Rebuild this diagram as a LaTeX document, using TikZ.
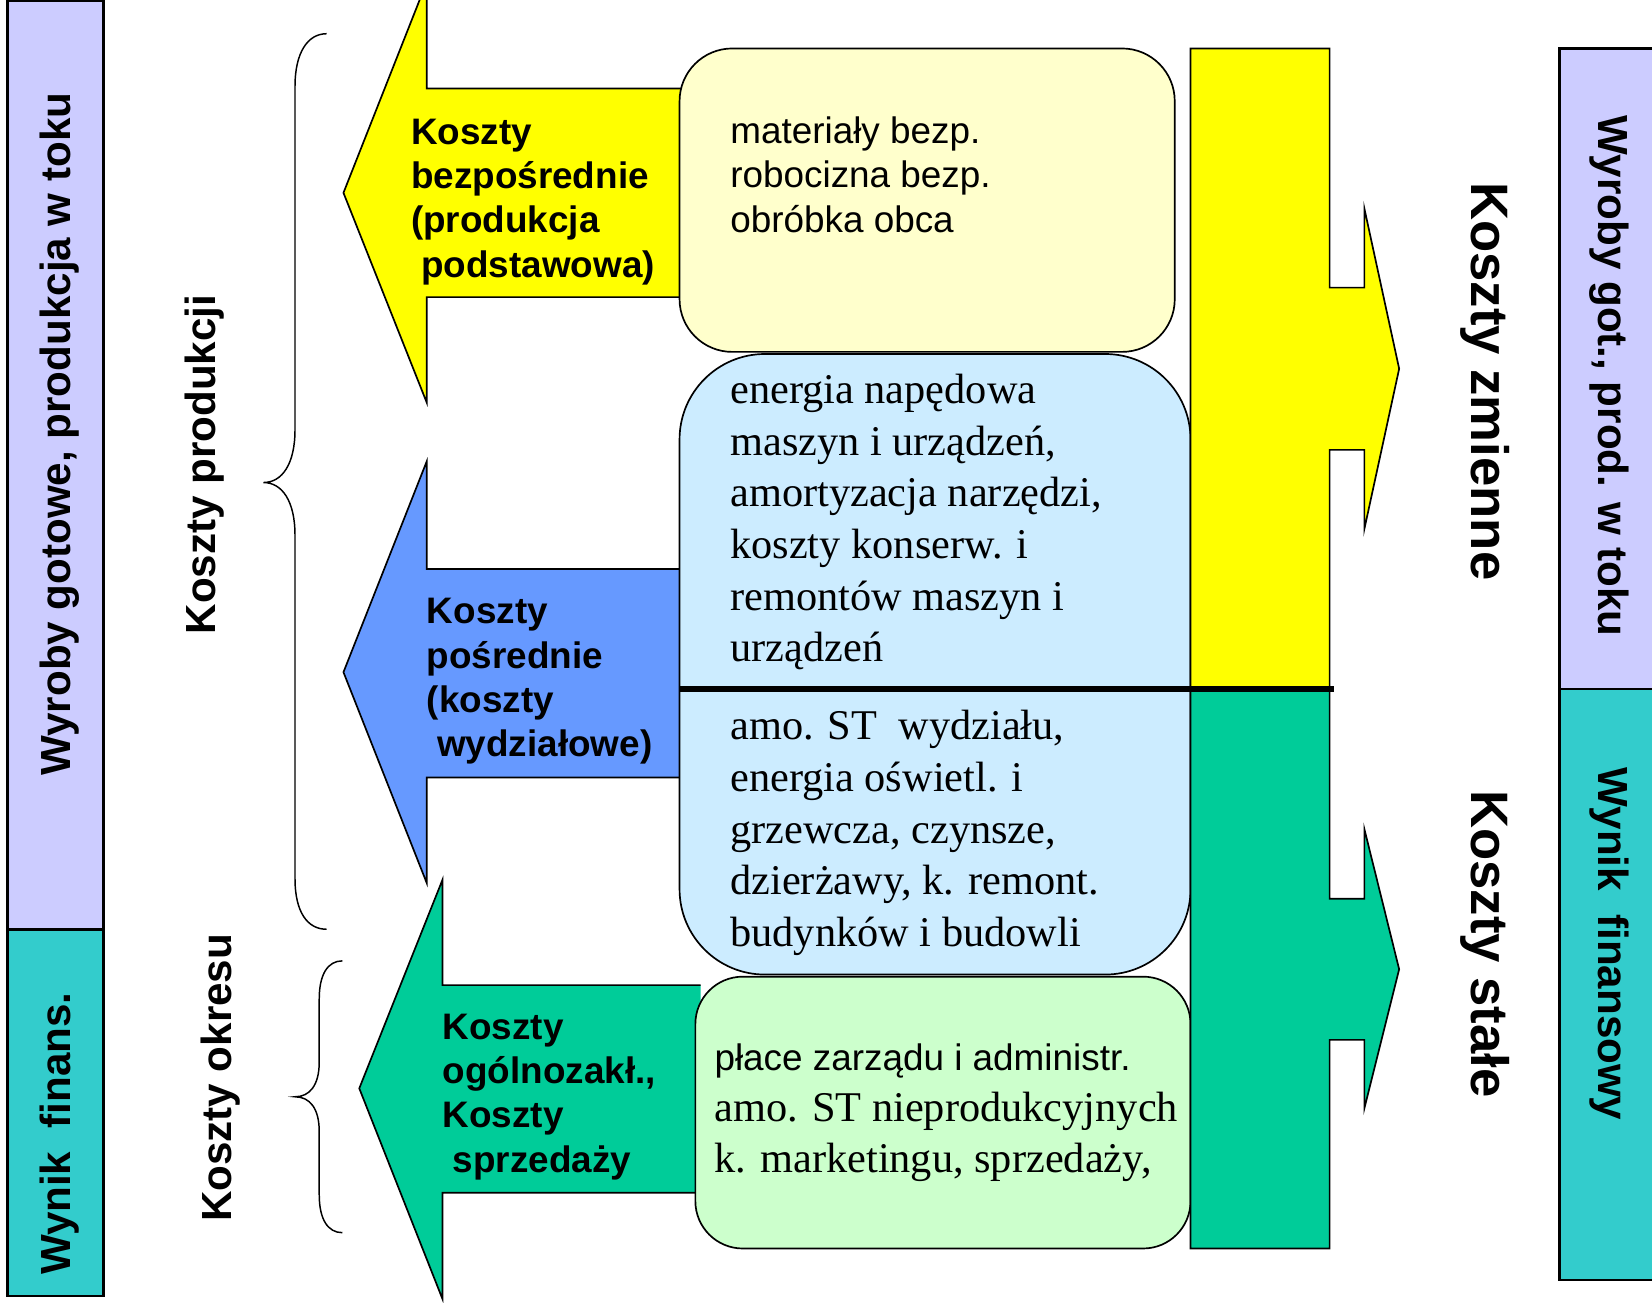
\documentclass[tikz,border=0pt]{standalone}
\usepackage{fontspec}
\setmainfont{Liberation Serif}
\setsansfont{Liberation Sans}
\definecolor{lav}{HTML}{CCCCFF}
\definecolor{tealx}{HTML}{33CCCC}
\definecolor{yel}{HTML}{FFFF00}
\definecolor{blu}{HTML}{6699FF}
\definecolor{grn}{HTML}{00CC99}
\definecolor{lyel}{HTML}{FFFFCC}
\definecolor{lblu}{HTML}{CCECFF}
\definecolor{lgrn}{HTML}{CCFFCC}
\begin{document}
\begin{tikzpicture}[x=1pt,y=-1pt,line join=miter,
  shp/.style={draw=black,line width=1.6pt},
  barshp/.style={draw=black,line width=2.4pt},
  brc/.style={draw=black,line width=1.4pt},
  lbl/.style={inner sep=0pt,anchor=north west,align=left,font=\sffamily\bfseries\fontsize{35}{42}\selectfont},
  sanstxt/.style={inner sep=0pt,anchor=north west,align=left,font=\sffamily\fontsize{35}{42}\selectfont},
  seriftxt/.style={inner sep=0pt,anchor=north west,align=left,font=\rmfamily\fontsize{40.2}{49}\selectfont},
  vtxt/.style={inner sep=0pt,anchor=base,font=\sffamily\bfseries\fontsize{40}{48}\selectfont},
  bigtxt/.style={inner sep=0pt,anchor=base,rotate=-90,font=\sffamily\bfseries\fontsize{50}{60}\selectfont}]
\useasboundingbox (0,0) rectangle (1568,1236);
\clip (0,0) rectangle (1568,1236);
\fill[white] (0,0) rectangle (1568,1236);

% left bar
\path[barshp,fill=lav] (7,1) rectangle (98,882);
\path[barshp,fill=tealx] (7,882) rectangle (98,1230);
\node[vtxt,rotate=90] (wyrL) at (67,412) {Wyroby gotowe, produkcja w toku};
\node[vtxt,rotate=90] (wynL) at (67,1076) {Wynik\ \ finans.};

% braces
\path[brc] (310,32) .. controls (292,32) and (280,50) .. (280,82) -- (280,408)
  .. controls (280,440) and (268,458) .. (250,458)
  .. controls (268,458) and (280,476) .. (280,508) -- (280,834)
  .. controls (280,866) and (292,882) .. (310,882);
\node[vtxt,rotate=90] (kprod) at (205,441) {Koszty produkcji};
\path[brc] (325,912) .. controls (311,912) and (303,925) .. (303,948) -- (303,1008)
  .. controls (303,1030) and (294,1041) .. (280,1041)
  .. controls (294,1041) and (303,1052) .. (303,1074) -- (303,1134)
  .. controls (303,1157) and (311,1170) .. (325,1170);
\node[vtxt,rotate=90] (kokr) at (220,1023) {Koszty okresu};

% left arrows
\path[shp,fill=yel] (650,84) -- (405,84) -- (405,-17) -- (326,183) -- (405,382) -- (405,282) -- (650,282);
\path[shp,fill=blu] (650,540) -- (405,540) -- (405,438) -- (326,638) -- (405,838) -- (405,738) -- (650,738);
\path[shp,fill=grn] (665,935) -- (420,935) -- (420,835) -- (341,1033) -- (420,1233) -- (420,1132) -- (665,1132);

% rounded boxes
\path[shp,fill=lyel,rounded corners=50pt] (645,46) rectangle (1115,334);
\path[shp,fill=lblu,rounded corners=81pt] (645,336) rectangle (1130,925);
\path[shp,fill=lgrn,rounded corners=45pt] (660,927) rectangle (1130,1185);

% right big bar with arrows
\path[shp,fill=yel] (1130,46) -- (1262,46) -- (1262,273) -- (1295,273) -- (1295,198) -- (1328,350)
  -- (1295,502) -- (1295,427) -- (1262,427) -- (1262,654) -- (1130,654) -- cycle;
\path[shp,fill=grn] (1130,654) -- (1262,654) -- (1262,853) -- (1295,853) -- (1295,787) -- (1328,920)
  -- (1295,1052) -- (1295,987) -- (1262,987) -- (1262,1185) -- (1130,1185) -- cycle;
\draw[line width=5pt] (645,654) -- (1266,654);

% right bar
\path[barshp,fill=lav] (1480,46) rectangle (1590,654);
\path[barshp,fill=tealx] (1480,654) rectangle (1590,1215);
\node[vtxt,rotate=-90] (wyrR) at (1517,357) {Wyroby got., prod. w toku};
\node[vtxt,rotate=-90] (wynR) at (1517,896) {Wynik\ \ finansowy};

\node[bigtxt] (kzm) at (1397,362) {Koszty zmienne};
\node[bigtxt] (kst) at (1397,896) {Koszty stałe};

% arrow labels
\node[lbl] (lbY) at (390,107.5) {\strut Koszty\\\strut bezpośrednie\\\strut (produkcja\\\strut\ podstawowa)};
\node[lbl] (lbB) at (405,562.5) {\strut Koszty\\\strut pośrednie\\\strut (koszty\\\strut\ wydziałowe)};
\node[lbl] (lbG) at (420,957) {\strut Koszty\\\strut ogólnozakł.,\\\strut Koszty\\\strut\ sprzedaży};

% box texts
\node[sanstxt] (tY) at (693,106.8) {\strut materiały bezp.\\\strut robocizna bezp.\\\strut obróbka obca};
\node[seriftxt] (tB1) at (693,348.7) {\strut energia napędowa\\\strut maszyn i urządzeń,\\\strut amortyzacja narzędzi,\\\strut koszty konserw. i\\\strut remontów maszyn i\\\strut urządzeń};
\node[seriftxt] (tB2) at (693,667.7) {\strut amo. ST\ \ wydziału,\\\strut energia oświetl. i\\\strut grzewcza, czynsze,\\\strut dzierżawy, k. remont.\\\strut budynków i budowli};
\node[sanstxt] (tG1) at (678,986.8) {\strut płace zarządu i administr.};
\node[seriftxt] (tG2) at (678,1029.7) {\strut amo. ST nieprodukcyjnych\\\strut k. marketingu, sprzedaży,};
\end{tikzpicture}
\end{document}
